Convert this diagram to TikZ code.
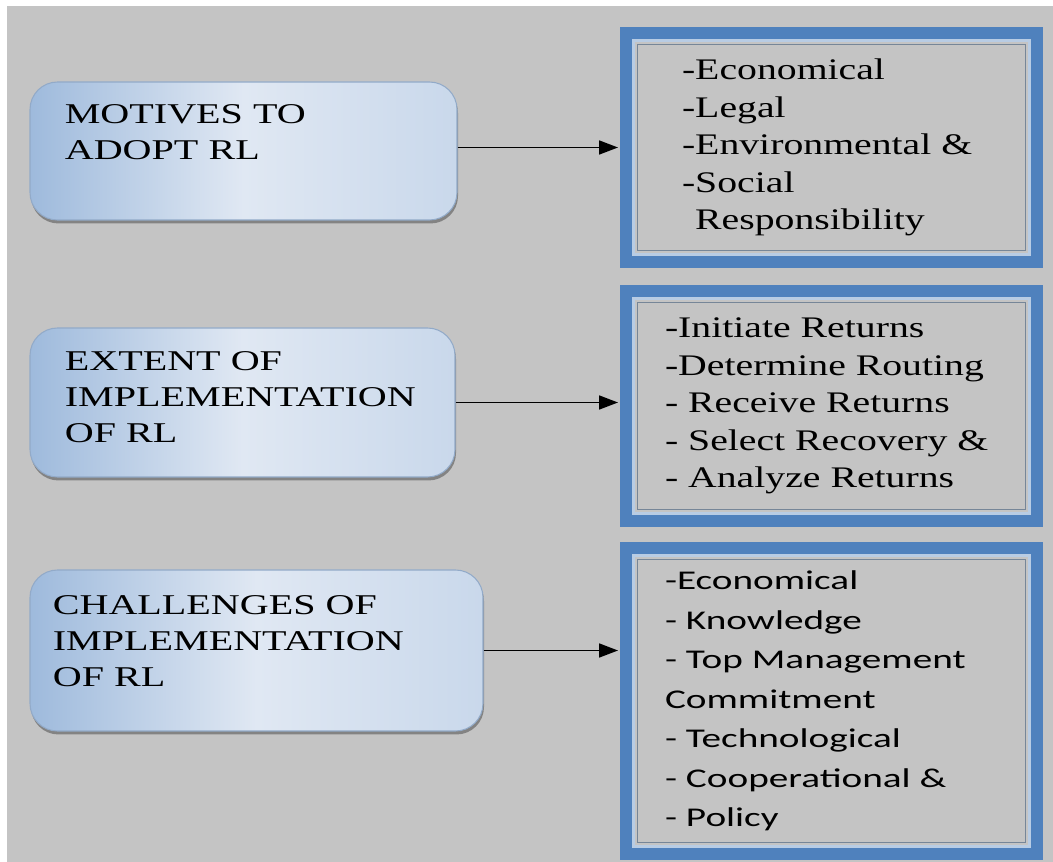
\documentclass[tikz,border=0pt]{standalone}
\usepackage{fontspec}
\usepackage{tikz}
\usetikzlibrary{arrows.meta,shadows}
\newfontfamily\topicfont[FakeStretch=1.4]{Liberation Serif}
\newfontfamily\serifwide[FakeStretch=1.33]{Liberation Serif}
\newfontfamily\sanswide[FakeStretch=1.45]{Carlito}
\definecolor{bggray}{RGB}{196,196,196}
\definecolor{topicblue}{RGB}{158,186,220}
\definecolor{topicpale}{RGB}{224,232,243}
\definecolor{topicedge}{RGB}{146,170,200}
\definecolor{frameblue}{RGB}{79,129,189}
\definecolor{framelight}{RGB}{184,204,228}
\definecolor{framedark}{RGB}{118,134,152}

\begin{document}
\begin{tikzpicture}[
          topic/.style={rectangle,rounded corners=0.55cm,draw=topicedge,line width=0.6pt,
            left color=topicblue,right color=topicblue!35!topicpale,middle color=topicpale,
            drop shadow={shadow xshift=0.02cm,shadow yshift=-0.07cm,fill=black!65,opacity=0.6}},
          topictext/.style={anchor=north west,inner sep=0pt,align=left,
            font=\topicfont\fontsize{16.3}{20.5}\selectfont},
          list/.style={rectangle,minimum width=7.76cm,fill=bggray,draw=framedark,line width=0.6pt,
            preaction={draw=frameblue,line width=0.7cm},
            preaction={draw=framelight,line width=0.22cm},
            preaction={draw=bggray,line width=0.1cm},
            inner ysep=0pt,outer sep=0.39cm,align=left,
            font=\serifwide\fontsize{17}{21.3}\selectfont},
          link/.style={line width=1pt,-{Triangle[length=0.38cm,width=0.28cm]}},
        ]
        \useasboundingbox (0,0) rectangle (21.06,-17.24);
        \fill[white] (0,0) rectangle (21.06,-17.24);
        \fill[bggray] (0.14,-0.12) rectangle (21.06,-17.24);

        \node[topic,minimum width=8.54cm,minimum height=2.76cm] (motive)    at (4.87,-3.02)  {};
        \node[topic,minimum width=8.5cm, minimum height=2.98cm] (extent)    at (4.85,-8.05)  {};
        \node[topic,minimum width=9.06cm,minimum height=3.22cm] (challenge) at (5.13,-13.01) {};
        \node[topictext] at ([xshift=0.7cm,yshift=-0.46cm]motive.north west)    {MOTIVES TO\\ADOPT RL};
        \node[topictext] at ([xshift=0.7cm,yshift=-0.48cm]extent.north west)    {EXTENT OF\\IMPLEMENTATION\\OF RL};
        \node[topictext] at ([xshift=0.46cm,yshift=-0.52cm]challenge.north west) {CHALLENGES OF\\IMPLEMENTATION\\OF RL};

        \node[list,minimum height=4.12cm,inner xsep=0.89cm,text width=5.98cm] (motivelist) at (16.63,-2.95)
          {-Economical\\-Legal\\-Environmental \&\\-Social\\\phantom{-}Responsibility};
        \node[list,minimum height=4.14cm,inner xsep=0.55cm,text width=6.66cm] (extentlist) at (16.63,-8.12)
          {-Initiate Returns\\-Determine Routing\\- Receive Returns\\- Select Recovery \&\\- Analyze Returns};
        \node[list,minimum height=5.66cm,inner xsep=0.55cm,text width=6.66cm,
          font=\sanswide\fontsize{15.4}{22.5}\selectfont] (challengelist) at (16.63,-14.02)
          {-Economical\\- Knowledge\\- Top Management\\Commitment\\- Technological\\- Cooperational \&\\- Policy};

        \draw[link] (motivelist.west -| motive.east) -- (motivelist.west);
        \draw[link] (extent.east) -- (extent.east -| extentlist.west);
        \draw[link] (challenge.east) -- (challenge.east -| challengelist.west);
      \end{tikzpicture}
\end{document}
